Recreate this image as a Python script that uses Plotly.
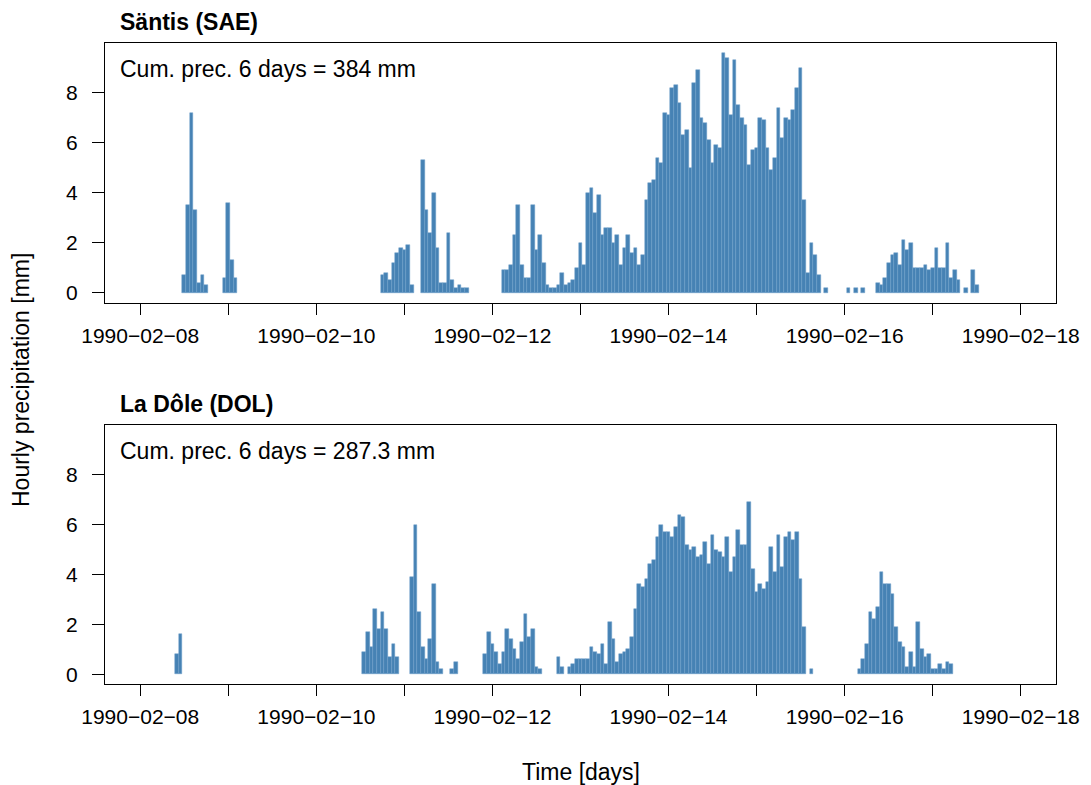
import pandas as pd
import plotly.graph_objects as go

# ---------------- data (hourly precipitation, mm; None = no bar) ----------------
sae_start = "1990-02-08 12:00"
sae_prec = [
    0.7, 3.5, 7.2, 3.3, 0.4, 0.7, 0.3,                      # 12-18
    None, None, None, None,                                 # 19-22
    0.6, 3.6, 1.3, 0.6,                                     # 23-26
] + [None] * 39 + [                                         # 27-65
    0.7, 0.8, 0.5, 1.2, 1.6, 1.8, 1.7, 1.9, 0.3,            # 66-74
    None, None,                                             # 75-76
    5.3, 3.3, 2.4, 4.0, 1.8, 0.4, 0.4, 2.4, 0.5, 0.2, 0.3, 0.2, 0.2,  # 77-89
] + [None] * 9 + [                                          # 90-98
    0.9, 0.9, 1.1, 2.3, 3.5, 1.1, 0.6, 0.6, 3.5, 1.7,       # 99-108
    2.3, 1.2, 0.3, 0.2, 0.2, 0.3, 0.8, 0.3, 0.4, 0.5,       # 109-118
    1.0, 2.0, 1.1, 4.0, 4.2, 3.2, 3.9, 2.3, 2.6, 2.6,       # 119-128
    2.0, 2.3, 1.1, 1.8, 2.3, 1.6, 1.8, 1.1, 1.5, 3.7,       # 129-138
    4.4, 4.5, 5.4, 5.2, 7.2, 7.1, 8.2, 8.3, 7.6, 6.3,       # 139-148
    6.5, 5.0, 8.4, 8.9, 7.0, 6.8, 6.1, 5.2, 5.9, 5.8,       # 149-158
    9.6, 9.4, 7.1, 9.3, 7.5, 7.0, 6.7, 5.1, 5.7, 5.8,       # 159-168
    7.0, 6.9, 5.8, 4.9, 5.4, 7.4, 6.2, 7.0, 6.9, 7.3,       # 169-178
    8.2, 9.0, 3.7, 0.8, 2.0, 1.5, 0.7, None, 0.2,           # 179-187
    None, None, None, None, None, 0.2, None, 0.2, None, 0.2,  # 188-197
    None, None, None,                                       # 198-200
    0.4, 0.3, 0.6, 1.2, 1.5, 1.6, 1.1, 2.1, 1.7, 2.0,       # 201-210
    1.0, 1.0, 1.0, 1.1, 0.9, 1.0, 1.8, 1.0, 1.0, 2.0,       # 211-220
    0.6, 0.9, 0.5, None, 0.2, None, 0.9, 0.3,               # 221-228
]

dol_start = "1990-02-08 10:00"
dol_prec = [
    0.8, 1.6,                                               # 10-11
] + [None] * 49 + [                                         # 12-60
    0.9, 1.7, 1.1, 2.6, 1.8, 2.5, 1.8, 0.7, 1.2, 0.7,       # 61-70
    None, None, None,                                       # 71-73
    3.9, 6.0, 2.5, 1.1, 0.6, 1.4, 3.6, 0.5, 0.2,            # 74-82
    None, None, 0.2, 0.5,                                   # 83-86
] + [None] * 7 + [                                          # 87-93
    0.8, 1.7, 1.2, 0.9, 0.4, 0.9, 1.8, 1.4, 1.0, 0.6,       # 94-103
    1.3, 2.4, 1.5, 1.8, 0.3, 0.2,                           # 104-109
    None, None, None, None,                                 # 110-113
    0.7, 0.3, None, 0.3, 0.4, 0.6, 0.6, 0.6, 0.6, 1.1,      # 114-123
    0.9, 0.8, 1.2, 0.4, 2.1, 1.4, 0.5, 0.8, 0.9, 1.0,       # 124-133
    1.5, 2.6, 3.6, 3.5, 3.8, 4.4, 4.6, 5.5, 6.0, 5.7,       # 134-143
    5.7, 5.5, 5.9, 6.4, 6.3, 5.2, 5.0, 5.1, 4.7, 4.8,       # 144-153
    5.3, 4.4, 5.6, 5.0, 4.9, 4.7, 5.5, 4.1, 4.7, 5.8,       # 154-163
    5.2, 5.2, 6.9, 4.2, 3.3, 3.6, 3.4, 3.7, 5.1, 4.1,       # 164-173
    5.6, 4.3, 5.5, 5.7, 5.4, 5.7, 3.8, 1.9, None, 0.2,      # 174-183
] + [None] * 12 + [                                         # 184-195
    0.2, 0.6, 1.2, 2.5, 2.2, 2.7, 4.1, 3.6, 3.6, 3.2,       # 196-205
    1.9, 1.3, 1.1, 0.3, 0.9, 0.3, 2.1, 1.0, 0.7, 0.8,       # 206-215
    0.2, 0.2, 0.4, 0.2, 0.5, 0.4,                           # 216-221
]

panel_titles = ["Säntis (SAE)", "La Dôle (DOL)"]
cum_labels = ["Cum. prec. 6 days = 384 mm", "Cum. prec. 6 days = 287.3 mm"]
y_ticks = [0, 2, 4, 6, 8]
x_tick_days = pd.date_range("1990-02-08", "1990-02-18", freq="D")
x_tick_text = [d.strftime("%Y\u2212%m\u2212%d") if i % 2 == 0 else "" for i, d in enumerate(x_tick_days)]

# ---------------- figure ----------------
FONT = "Liberation Sans, Arial, Helvetica, sans-serif"
BAR = "#4682B4"
OFF = 8                      # page body margin of the html page
W, H = 1091 - OFF, 785 - OFF
L, R, T, B = 105 - OFF, 35, 43 - OFF, 101
PW, PH = W - L - R, H - T - B

def py(pix):  # reference-pixel y -> paper y
    return (H - B - (pix - OFF)) / PH

def px(pix):  # reference-pixel x -> paper x
    return (pix - OFF - L) / PW

sae_x = pd.date_range(sae_start, periods=len(sae_prec), freq="h")
dol_x = pd.date_range(dol_start, periods=len(dol_prec), freq="h")

fig = go.Figure()
for i, (xs, ys) in enumerate([(sae_x, sae_prec), (dol_x, dol_prec)]):
    sfx = "" if i == 0 else "2"
    fig.add_trace(go.Bar(
        x=xs, y=ys, width=3600000,
        marker=dict(color=BAR, line=dict(color="#6f9fcb", width=0.5)),
        xaxis="x" + sfx, yaxis="y" + sfx, showlegend=False,
    ))

xrange = ["1990-02-07 14:24", "1990-02-18 09:36"]
yrange = [-0.384, 9.984]
top_dom = [py(302.5), 1.0]
bot_dom = [0.0, py(425)]

def xaxis(anchor):
    return dict(
        domain=[0, 1], anchor=anchor, range=xrange, type="date",
        tickmode="array", tickvals=list(x_tick_days), ticktext=x_tick_text,
        ticks="outside", ticklen=11, tickwidth=1.3, tickcolor="black",
        showline=True, linecolor="black", linewidth=1.3, mirror=True,
        showgrid=False, zeroline=False, ticklabelstandoff=3,
        tickfont=dict(family=FONT, size=21, color="black"),
    )

def yaxis(anchor, dom):
    return dict(
        domain=dom, anchor=anchor, range=yrange,
        tickmode="array", tickvals=y_ticks, ticktext=[str(v) for v in y_ticks],
        ticks="outside", ticklen=12, tickwidth=1.3, tickcolor="black",
        showline=True, linecolor="black", linewidth=1.3, mirror=True,
        showgrid=False, zeroline=False, ticklabelstandoff=10,
        tickfont=dict(family=FONT, size=21, color="black"),
    )

annotations = []
for i, box_top in enumerate([43, 425]):
    annotations.append(dict(
        text="<b>" + panel_titles[i] + "</b>", xref="paper", yref="paper",
        x=px(118), y=py(box_top - 21), xanchor="left", yanchor="middle",
        showarrow=False, font=dict(family=FONT, size=23, color="black"),
    ))
    annotations.append(dict(
        text=cum_labels[i], xref="paper", yref="paper",
        x=px(118), y=py(box_top + 26), xanchor="left", yanchor="middle",
        showarrow=False, font=dict(family=FONT, size=23, color="black"),
    ))
annotations.append(dict(
    text="Hourly precipitation [mm]", xref="paper", yref="paper",
    x=px(21), y=py(380), xanchor="center", yanchor="middle", textangle=-90,
    showarrow=False, font=dict(family=FONT, size=23, color="black"),
))
annotations.append(dict(
    text="Time [days]", xref="paper", yref="paper",
    x=px(580.5), y=py(772), xanchor="center", yanchor="middle",
    showarrow=False, font=dict(family=FONT, size=23, color="black"),
))

fig.update_layout(
    width=W, height=H,
    margin=dict(l=L, r=R, t=T, b=B, autoexpand=False),
    paper_bgcolor="white", plot_bgcolor="white",
    bargap=0, barmode="overlay",
    xaxis=xaxis("y"), yaxis=yaxis("x", top_dom),
    xaxis2=xaxis("y2"), yaxis2=yaxis("x2", bot_dom),
    annotations=annotations,
    font=dict(family=FONT, color="black"),
)

fig.write_html("out.html")
